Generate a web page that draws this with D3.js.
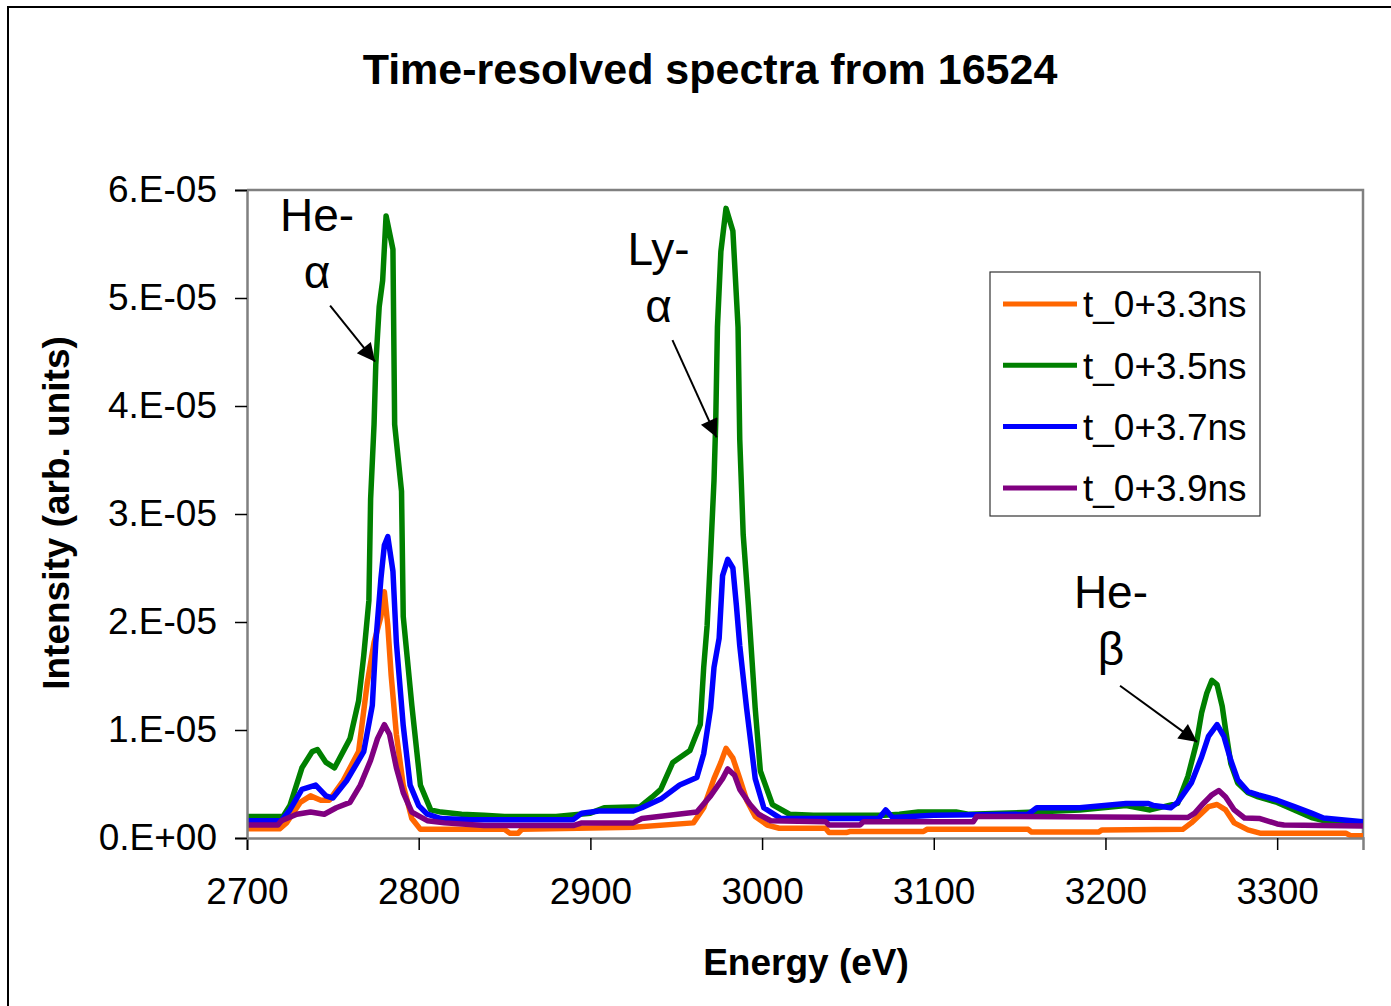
<!DOCTYPE html>
<html>
<head>
<meta charset="utf-8">
<script src="https://cdn.jsdelivr.net/npm/d3@7"></script>
<style>
  html, body { margin: 0; padding: 0; background: #fff; }
  svg { display: block; }
  text { font-family: "Liberation Sans", Arial, sans-serif; }
</style>
</head>
<body>
<svg id="chart" width="1391" height="1006"></svg>
<script>
// Spectra for shot 16524 at four delays after t_0 (energy in eV, intensity in arb. units)
const seriesNames = ["t_0+3.3ns", "t_0+3.5ns", "t_0+3.7ns", "t_0+3.9ns"];
const seriesColors = ["#FF6600", "#008000", "#0000FF", "#800080"];

const energy33 = [2700, 2719, 2723, 2731, 2737, 2743, 2748, 2756, 2765, 2770, 2774, 2778, 2780, 2782, 2784, 2787, 2791, 2796, 2801, 2850, 2853, 2858, 2860, 2925, 2960, 2966, 2972, 2976, 2979, 2983, 2987, 2991, 2996, 3003, 3010, 3037, 3039, 3049, 3051, 3094, 3096, 3155, 3157, 3196, 3198, 3245, 3250, 3256, 3260, 3265, 3270, 3275, 3283, 3290, 3340, 3343, 3350];
const intensity33 = [0.85e-6, 0.85e-6, 1.4e-6, 3.3e-6, 3.9e-6, 3.5e-6, 3.5e-6, 5.3e-6, 8.0e-6, 14.3e-6, 18.1e-6, 20.5e-6, 22.8e-6, 19.7e-6, 15.0e-6, 9.6e-6, 4.9e-6, 1.8e-6, 0.8e-6, 0.8e-6, 0.45e-6, 0.45e-6, 0.8e-6, 1.0e-6, 1.4e-6, 2.8e-6, 5.5e-6, 7.0e-6, 8.3e-6, 7.4e-6, 5.5e-6, 3.5e-6, 2.0e-6, 1.2e-6, 0.9e-6, 0.9e-6, 0.5e-6, 0.5e-6, 0.6e-6, 0.6e-6, 0.8e-6, 0.8e-6, 0.55e-6, 0.55e-6, 0.75e-6, 0.8e-6, 1.4e-6, 2.3e-6, 2.9e-6, 3.1e-6, 2.6e-6, 1.4e-6, 0.75e-6, 0.45e-6, 0.45e-6, 0.2e-6, 0.2e-6];

const energy35 = [2700, 2721, 2725, 2732, 2738, 2741, 2746, 2751, 2760, 2765, 2768, 2771, 2772, 2774, 2775, 2777, 2779, 2781, 2785, 2786, 2790, 2791, 2796, 2801, 2807, 2813, 2825, 2838, 2850, 2880, 2900, 2908, 2929, 2936, 2941, 2948, 2958, 2964, 2966, 2968, 2970, 2972, 2973, 2974, 2976, 2979, 2983, 2986, 2987, 2989, 2992, 2996, 2999, 3006, 3016, 3030, 3071, 3080, 3091, 3113, 3120, 3159, 3185, 3212, 3226, 3242, 3248, 3253, 3256, 3259, 3262, 3265, 3268, 3270, 3273, 3277, 3283, 3289, 3300, 3310, 3320, 3330, 3350];
const intensity35 = [2.0e-6, 2.0e-6, 3.0e-6, 6.5e-6, 8.0e-6, 8.2e-6, 7.0e-6, 6.5e-6, 9.2e-6, 12.7e-6, 16.9e-6, 22.0e-6, 31.4e-6, 38.3e-6, 43.8e-6, 49.2e-6, 51.6e-6, 57.6e-6, 54.5e-6, 38.3e-6, 32.1e-6, 20.5e-6, 12.3e-6, 4.9e-6, 2.6e-6, 2.4e-6, 2.2e-6, 2.1e-6, 2.0e-6, 2.0e-6, 2.3e-6, 2.8e-6, 2.9e-6, 3.8e-6, 4.5e-6, 7.0e-6, 8.1e-6, 10.5e-6, 15.8e-6, 19.7e-6, 26.2e-6, 33.1e-6, 38.5e-6, 47.3e-6, 54.3e-6, 58.3e-6, 56.2e-6, 47.3e-6, 36.9e-6, 28.1e-6, 21.6e-6, 12.0e-6, 6.2e-6, 3.1e-6, 2.2e-6, 2.1e-6, 2.1e-6, 2.2e-6, 2.4e-6, 2.4e-6, 2.2e-6, 2.4e-6, 2.6e-6, 3.0e-6, 2.6e-6, 3.2e-6, 5.7e-6, 8.8e-6, 11.6e-6, 13.4e-6, 14.6e-6, 14.2e-6, 12.2e-6, 10.0e-6, 6.9e-6, 5.1e-6, 4.2e-6, 3.8e-6, 3.3e-6, 2.6e-6, 1.9e-6, 1.5e-6, 1.3e-6];

const energy37 = [2700, 2720, 2725, 2732, 2740, 2746, 2750, 2758, 2768, 2773, 2775, 2778, 2780, 2782, 2785, 2787, 2791, 2795, 2800, 2805, 2813, 2830, 2890, 2895, 2905, 2925, 2930, 2941, 2952, 2962, 2966, 2970, 2972, 2975, 2977, 2980, 2983, 2985, 2987, 2991, 2996, 3001, 3011, 3020, 3068, 3072, 3076, 3100, 3155, 3160, 3185, 3212, 3225, 3228, 3238, 3242, 3250, 3256, 3260, 3265, 3269, 3273, 3277, 3283, 3289, 3300, 3310, 3320, 3327, 3339, 3350];
const intensity37 = [1.6e-6, 1.6e-6, 2.6e-6, 4.5e-6, 4.9e-6, 3.9e-6, 3.7e-6, 5.3e-6, 8.0e-6, 12.3e-6, 18.1e-6, 24.0e-6, 27.1e-6, 27.9e-6, 24.7e-6, 18.1e-6, 10.4e-6, 4.9e-6, 3.0e-6, 2.2e-6, 1.8e-6, 1.7e-6, 1.7e-6, 2.3e-6, 2.5e-6, 2.5e-6, 2.8e-6, 3.6e-6, 4.9e-6, 5.6e-6, 7.8e-6, 12.0e-6, 15.8e-6, 18.5e-6, 24.3e-6, 25.8e-6, 25.0e-6, 21.6e-6, 17.8e-6, 12.0e-6, 5.5e-6, 2.8e-6, 1.8e-6, 1.8e-6, 1.8e-6, 2.6e-6, 1.9e-6, 2.1e-6, 2.2e-6, 2.8e-6, 2.8e-6, 3.2e-6, 3.2e-6, 3.0e-6, 2.8e-6, 3.3e-6, 5.1e-6, 7.5e-6, 9.4e-6, 10.5e-6, 9.4e-6, 7.2e-6, 5.4e-6, 4.3e-6, 4.0e-6, 3.5e-6, 2.9e-6, 2.3e-6, 1.85e-6, 1.67e-6, 1.5e-6];

const energy39 = [2700, 2718, 2720, 2729, 2737, 2745, 2752, 2760, 2766, 2772, 2776, 2780, 2783, 2787, 2791, 2796, 2805, 2815, 2838, 2890, 2895, 2925, 2930, 2962, 2970, 2977, 2980, 2984, 2987, 2993, 2998, 3005, 3037, 3039, 3057, 3059, 3123, 3125, 3248, 3252, 3257, 3262, 3266, 3270, 3275, 3281, 3290, 3300, 3304, 3350];
const intensity39 = [1.2e-6, 1.2e-6, 1.6e-6, 2.2e-6, 2.4e-6, 2.2e-6, 2.8e-6, 3.3e-6, 4.9e-6, 7.2e-6, 9.2e-6, 10.5e-6, 9.6e-6, 6.5e-6, 4.2e-6, 2.4e-6, 1.6e-6, 1.4e-6, 1.15e-6, 1.15e-6, 1.4e-6, 1.4e-6, 1.8e-6, 2.4e-6, 3.9e-6, 5.5e-6, 6.4e-6, 5.8e-6, 4.5e-6, 3.1e-6, 2.2e-6, 1.6e-6, 1.5e-6, 1.2e-6, 1.2e-6, 1.5e-6, 1.5e-6, 2.0e-6, 1.9e-6, 2.3e-6, 3.2e-6, 4.0e-6, 4.4e-6, 3.8e-6, 2.6e-6, 1.85e-6, 1.8e-6, 1.3e-6, 1.2e-6, 1.1e-6];

const seriesEnergy = [energy33, energy35, energy37, energy39];
const seriesIntensity = [intensity33, intensity35, intensity37, intensity39];

// Axis ticks
const xTicks = [2700, 2800, 2900, 3000, 3100, 3200, 3300];
const yTicks = [0, 1e-5, 2e-5, 3e-5, 4e-5, 5e-5, 6e-5];
const yTickLabels = ["0.E+00", "1.E-05", "2.E-05", "3.E-05", "4.E-05", "5.E-05", "6.E-05"];

// Line identifications: label lines, label anchor (eV, intensity), arrow start and tip
const lineLabels = [
  { lines: ["He-", "\u03B1"], at: [2740.8, 5.62e-5], from: [2748.4, 4.93e-5], to: [2774.6, 4.41e-5] },
  { lines: ["Ly-", "\u03B1"], at: [2939.7, 5.31e-5], from: [2947.8, 4.61e-5], to: [2973.5, 3.71e-5] },
  { lines: ["He-", "\u03B2"], at: [3203.2, 2.13e-5], from: [3208.5, 1.41e-5], to: [3253.4, 0.89e-5] }
];

const svg = d3.select("#chart");
const plot = { left: 247, top: 190, width: 1116, height: 648 };

const x = d3.scaleLinear().domain([2700, 3350]).range([plot.left, plot.left + plot.width]);
const y = d3.scaleLinear().domain([0, 6e-5]).range([plot.top + plot.height, plot.top]);

// Outer frame of the figure
svg.append("rect")
  .attr("x", 8).attr("y", 7).attr("width", 1420).attr("height", 1030)
  .attr("fill", "none").attr("stroke", "#000").attr("stroke-width", 2);

// Title
svg.append("text")
  .attr("x", 710).attr("y", 84)
  .attr("text-anchor", "middle")
  .attr("font-size", 43).attr("font-weight", "bold")
  .text("Time-resolved spectra from 16524");

// Plot frame (top and right edges)
svg.append("path")
  .attr("d", `M${plot.left},${plot.top}H${plot.left + plot.width}V${plot.top + plot.height}`)
  .attr("fill", "none").attr("stroke", "#808080").attr("stroke-width", 2.5);

// Spectra
svg.append("clipPath").attr("id", "plotclip")
  .append("rect").attr("x", plot.left).attr("y", plot.top - 5)
  .attr("width", plot.width).attr("height", plot.height + 5);

const line = d3.line()
  .x(d => x(d[0]))
  .y(d => y(d[1]))
  .curve(d3.curveLinear);

const gLines = svg.append("g").attr("clip-path", "url(#plotclip)");
seriesNames.forEach((name, i) => {
  const pts = seriesEnergy[i].map((e, k) => [e, seriesIntensity[i][k]]);
  gLines.append("path")
    .datum(pts)
    .attr("d", line)
    .attr("fill", "none")
    .attr("stroke", seriesColors[i])
    .attr("stroke-width", 5.5)
    .attr("stroke-linejoin", "round");
});

// Axes
const xAxis = d3.axisBottom(x).tickValues(xTicks).tickFormat(d3.format("d")).tickSize(12).tickPadding(28);
const yAxis = d3.axisLeft(y).tickValues(yTicks).tickFormat((d, i) => yTickLabels[i]).tickSize(12).tickPadding(18);

const gx = svg.append("g").attr("transform", `translate(0,${plot.top + plot.height})`).call(xAxis);
const gy = svg.append("g").attr("transform", `translate(${plot.left},0)`).call(yAxis);

[gx, gy].forEach(g => {
  g.select(".domain").attr("stroke", "#808080").attr("stroke-width", 2.5);
  g.selectAll(".tick line").attr("stroke", "#000").attr("stroke-width", 1.5);
  g.selectAll(".tick text")
    .attr("font-family", "'Liberation Sans', Arial, sans-serif")
    .attr("font-size", 37).attr("fill", "#000");
});

// Axis titles
svg.append("text")
  .attr("x", 806).attr("y", 975)
  .attr("text-anchor", "middle")
  .attr("font-size", 37).attr("font-weight", "bold")
  .text("Energy (eV)");

svg.append("text")
  .attr("transform", "translate(69,513) rotate(-90)")
  .attr("text-anchor", "middle")
  .attr("font-size", 37).attr("font-weight", "bold")
  .text("Intensity (arb. units)");

// Legend
const legend = svg.append("g");
legend.append("rect")
  .attr("x", 990).attr("y", 272).attr("width", 270).attr("height", 244)
  .attr("fill", "#fff").attr("stroke", "#333").attr("stroke-width", 1.2);
seriesNames.forEach((name, i) => {
  const cy = 304 + i * 61.3;
  legend.append("line")
    .attr("x1", 1003).attr("x2", 1077).attr("y1", cy).attr("y2", cy)
    .attr("stroke", seriesColors[i]).attr("stroke-width", 5);
  legend.append("text")
    .attr("x", 1083).attr("y", cy).attr("dy", "0.36em")
    .attr("font-size", 37)
    .text(name);
});

// Line identification labels with arrows
const defs = svg.append("defs");
defs.append("marker")
  .attr("id", "arrowhead")
  .attr("viewBox", "0 0 10 10")
  .attr("refX", 10).attr("refY", 5)
  .attr("markerWidth", 11).attr("markerHeight", 9)
  .attr("markerUnits", "strokeWidth")
  .attr("orient", "auto")
  .append("path").attr("d", "M0,0L10,5L0,10Z").attr("fill", "#000");

lineLabels.forEach(lab => {
  const g = svg.append("g");
  lab.lines.forEach((t, k) => {
    g.append("text")
      .attr("x", x(lab.at[0]))
      .attr("y", y(lab.at[1]) + k * 57)
      .attr("text-anchor", "middle")
      .attr("font-family", "'Liberation Serif', 'Times New Roman', serif")
      .attr("font-size", 46)
      .text(t);
  });
  g.append("line")
    .attr("x1", x(lab.from[0])).attr("y1", y(lab.from[1]))
    .attr("x2", x(lab.to[0])).attr("y2", y(lab.to[1]))
    .attr("stroke", "#000").attr("stroke-width", 2)
    .attr("marker-end", "url(#arrowhead)");
});
</script>
</body>
</html>
